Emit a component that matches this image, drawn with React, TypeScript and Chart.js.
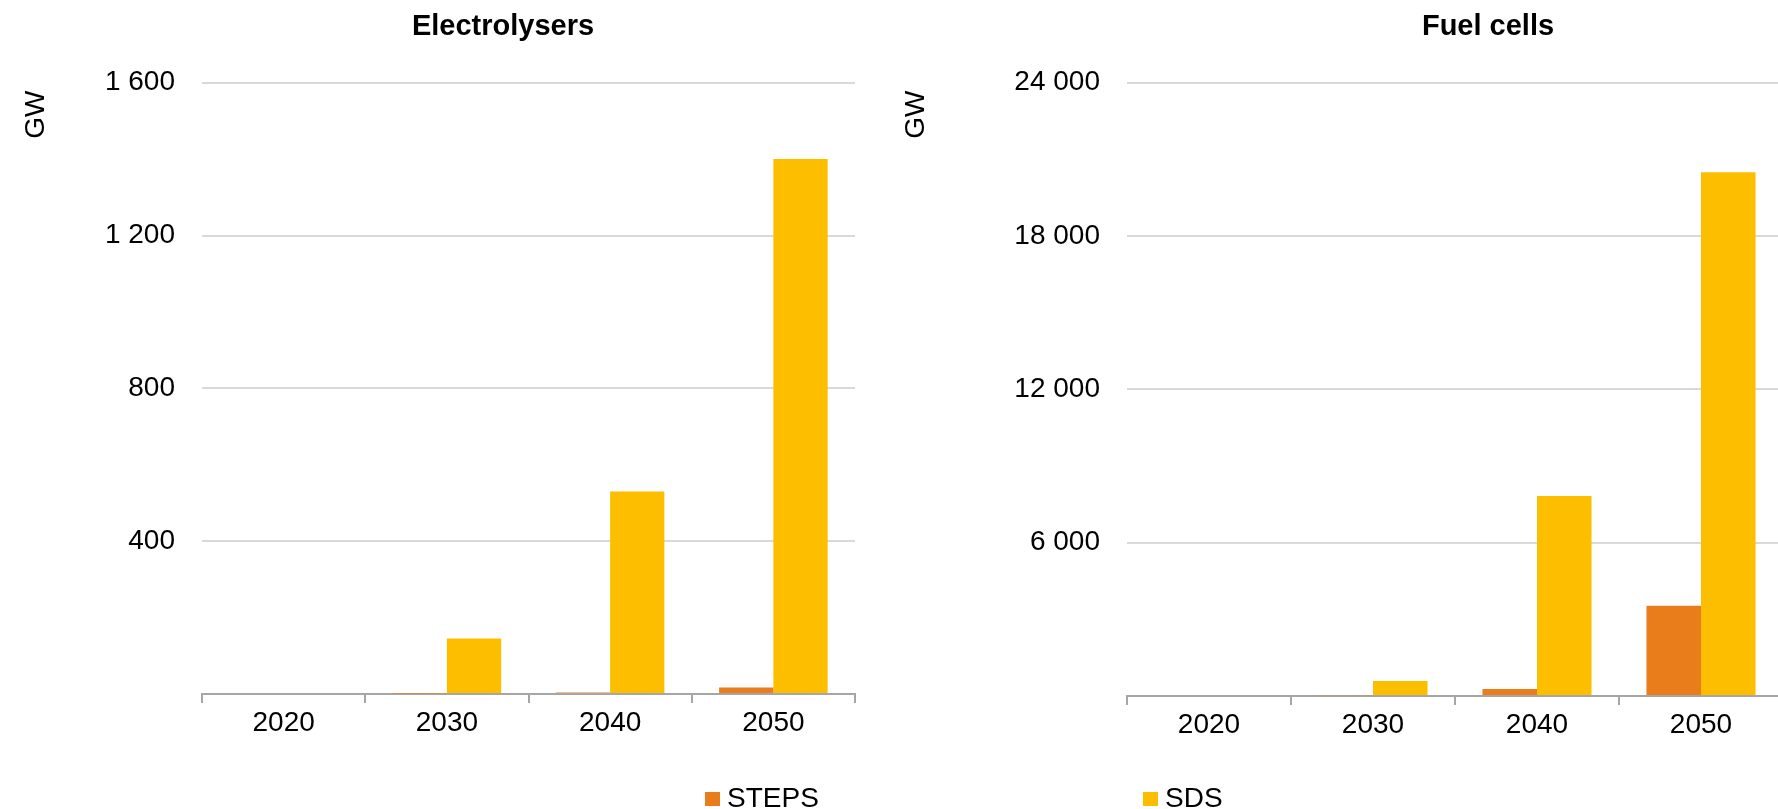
import React, { useEffect, useRef } from 'react';
import { Chart, registerables } from 'chart.js';

Chart.register(...registerables);

const categories = ['2020', '2030', '2040', '2050'];
const seriesNames = ['STEPS', 'SDS'];
const seriesColors = ['#e97d1c', '#fdbe00'];

const electrolysersSTEPS = [0, 1.5, 4, 17];
const electrolysersSDS = [0, 145, 530, 1400];
const fuelCellsSTEPS = [0, 30, 275, 3535];
const fuelCellsSDS = [0, 590, 7830, 20500];

const electrolysersTicks = [0, 400, 800, 1200, 1600];
const fuelCellsTicks = [0, 6000, 12000, 18000, 24000];

const FONT = '"Liberation Sans", Arial, Helvetica, sans-serif';

const fmt = (v: number) => String(v).replace(/\B(?=(\d{3})+(?!\d))/g, ' ');

interface PanelSpec {
  title: string;
  steps: number[];
  sds: number[];
  ticks: number[];
  yAxisWidth: number;
  rightWidth: number;
  xAxisHeight: number;
  unitPad: number;
}

function makeConfig(p: PanelSpec): any {
  const maxTick = p.ticks[p.ticks.length - 1];
  return {
    type: 'bar',
    data: {
      labels: categories,
      datasets: [
        { label: seriesNames[0], data: p.steps, backgroundColor: seriesColors[0], borderWidth: 0, yAxisID: 'y' },
        { label: seriesNames[1], data: p.sds, backgroundColor: seriesColors[1], borderWidth: 0, yAxisID: 'y' },
      ],
    },
    options: {
      responsive: false,
      animation: false,
      layout: { padding: 0 },
      datasets: { bar: { categoryPercentage: 0.665, barPercentage: 1 } },
      plugins: {
        legend: { display: false },
        tooltip: { enabled: false },
        title: {
          display: true,
          text: p.title,
          color: '#000',
          font: { family: FONT, size: 29, weight: 'bold', lineHeight: 1.2 },
          padding: { top: 10, bottom: 37.9 },
        },
      },
      scales: {
        x: {
          grid: {
            display: true,
            offset: true,
            drawOnChartArea: false,
            drawTicks: true,
            tickLength: 9,
            color: '#a6a6a6',
            lineWidth: 2,
          },
          border: { display: true, color: '#a6a6a6', width: 2 },
          ticks: { color: '#000', font: { family: FONT, size: 28, lineHeight: 1.2 }, padding: 3, maxRotation: 0, autoSkip: false },
          afterFit: (s: any) => { s.height = p.xAxisHeight; },
        },
        y: {
          position: 'left',
          min: 0,
          max: maxTick,
          afterBuildTicks: (s: any) => { s.ticks = p.ticks.map((v) => ({ value: v })); },
          grid: {
            color: (c: any) => (c.tick && c.tick.value === 0 ? 'rgba(0,0,0,0)' : '#d9d9d9'),
            lineWidth: 2,
            drawTicks: false,
          },
          border: { display: false },
          ticks: {
            color: '#000',
            font: { family: FONT, size: 28, lineHeight: 1.2 },
            padding: 27,
            callback: (v: any) => (Number(v) === 0 ? '' : fmt(Number(v))),
          },
          title: {
            display: true,
            text: 'GW ',
            align: 'end',
            color: '#000',
            font: { family: FONT, size: 28, lineHeight: 1.2 },
            padding: { top: p.unitPad, bottom: 0 },
          },
          afterFit: (s: any) => { s.width = p.yAxisWidth; },
        },
        yPad: {
          position: 'right',
          display: true,
          grid: { display: false, drawTicks: false },
          border: { display: false },
          ticks: { display: false },
          afterFit: (s: any) => { s.width = p.rightWidth; },
        },
      },
    },
  };
}

const leftPanel: PanelSpec = {
  title: 'Electrolysers',
  steps: electrolysersSTEPS,
  sds: electrolysersSDS,
  ticks: electrolysersTicks,
  yAxisWidth: 202,
  rightWidth: 151,
  xAxisHeight: 115,
  unitPad: 19,
};

const rightPanel: PanelSpec = {
  title: 'Fuel cells',
  steps: fuelCellsSTEPS,
  sds: fuelCellsSDS,
  ticks: fuelCellsTicks,
  yAxisWidth: 234,
  rightWidth: 300,
  xAxisHeight: 113,
  unitPad: 6,
};

const legendSpots = [
  { box: 705, text: 727 },
  { box: 1143, text: 1165 },
];

export default function App() {
  const leftRef = useRef<HTMLCanvasElement | null>(null);
  const rightRef = useRef<HTMLCanvasElement | null>(null);

  useEffect(() => {
    const charts: Chart[] = [];
    if (leftRef.current) charts.push(new Chart(leftRef.current, makeConfig(leftPanel)));
    if (rightRef.current) charts.push(new Chart(rightRef.current, makeConfig(rightPanel)));
    return () => charts.forEach((c) => c.destroy());
  }, []);

  return (
    <div
      style={{
        position: 'fixed',
        left: 0,
        top: 0,
        width: 1778,
        height: 809,
        overflow: 'hidden',
        background: '#fff',
        fontFamily: FONT,
      }}
    >
      <canvas ref={leftRef} width={1006} height={809} style={{ position: 'absolute', left: 0, top: 0 }} />
      <canvas ref={rightRef} width={1190} height={809} style={{ position: 'absolute', left: 893, top: 0 }} />
      {seriesNames.map((name, i) => (
        <React.Fragment key={name}>
          <div
            style={{
              position: 'absolute',
              left: legendSpots[i].box,
              top: 792,
              width: 15,
              height: 14,
              background: seriesColors[i],
            }}
          />
          <div
            style={{
              position: 'absolute',
              left: legendSpots[i].text,
              top: 784,
              fontSize: 28,
              lineHeight: '28px',
              color: '#000',
              whiteSpace: 'nowrap',
            }}
          >
            {name}
          </div>
        </React.Fragment>
      ))}
    </div>
  );
}
